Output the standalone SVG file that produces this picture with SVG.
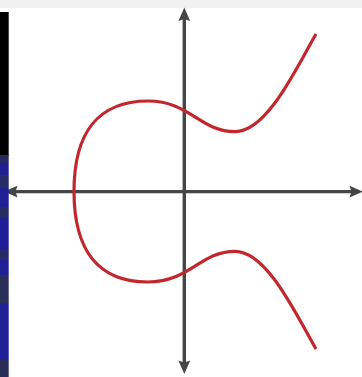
<svg xmlns="http://www.w3.org/2000/svg" width="362" height="377" viewBox="0 0 362 377">
  <style>
    .axis { stroke: #454545; stroke-width: 3.4; fill: none; }
    .head { fill: #454545; }
    .curve { stroke: #c1272d; stroke-width: 3.2; fill: none; stroke-linecap: butt; stroke-linejoin: round; }
  </style>
  <rect x="0" y="0" width="362" height="377" fill="#ffffff"/>
  <rect x="0" y="0" width="362" height="8" fill="#f0f0f0"/>
  <g id="axes">
    <line class="axis" x1="184.3" y1="18" x2="184.3" y2="364"/>
    <line class="axis" x1="12" y1="191.6" x2="352" y2="191.6"/>
    <path class="head" d="M184.3,7.5 L190.2,21 L184.3,19 L178.4,21 Z"/>
    <path class="head" d="M184.3,374 L190.2,360.5 L184.3,362.5 L178.4,360.5 Z"/>
    <path class="head" d="M363,191.6 L349.5,185.7 L351.5,191.6 L349.5,197.5 Z"/>
    <path class="head" d="M4,191.6 L17.5,185.7 L15.5,191.6 L17.5,197.5 Z"/>
  </g>
  <g id="curve">
    <path class="curve" d="M316,34 C296,68.6 267,131.7 235,131.7 C200,131.7 190,101 148,101 C98,101 74,133 74,191.5 C74,250 98,282 148,282 C190,282 200,251.3 235,251.3 C267,251.3 296,314.4 316,349"/>
  </g>
  <g id="left-strip">
    <rect x="0" y="12" width="8.7" height="144" fill="#000000"/>
    <rect x="0" y="155" width="8.7" height="8" fill="#272a5e"/>
    <rect x="0" y="163" width="8.7" height="12" fill="#1f2090"/>
    <rect x="0" y="175" width="8.7" height="13" fill="#262b66"/>
    <rect x="0" y="188" width="8.7" height="19" fill="#1f2096"/>
    <rect x="0" y="207" width="8.7" height="11" fill="#272c62"/>
    <rect x="0" y="218" width="8.7" height="32" fill="#1e1f98"/>
    <rect x="0" y="250" width="8.7" height="10" fill="#262a66"/>
    <rect x="0" y="260" width="8.7" height="15" fill="#1f2094"/>
    <rect x="0" y="275" width="8.7" height="28" fill="#2b2e58"/>
    <rect x="0" y="303" width="8.7" height="57" fill="#1f1f96"/>
    <rect x="0" y="360" width="8.7" height="17" fill="#2a2d58"/>
  </g>
</svg>
